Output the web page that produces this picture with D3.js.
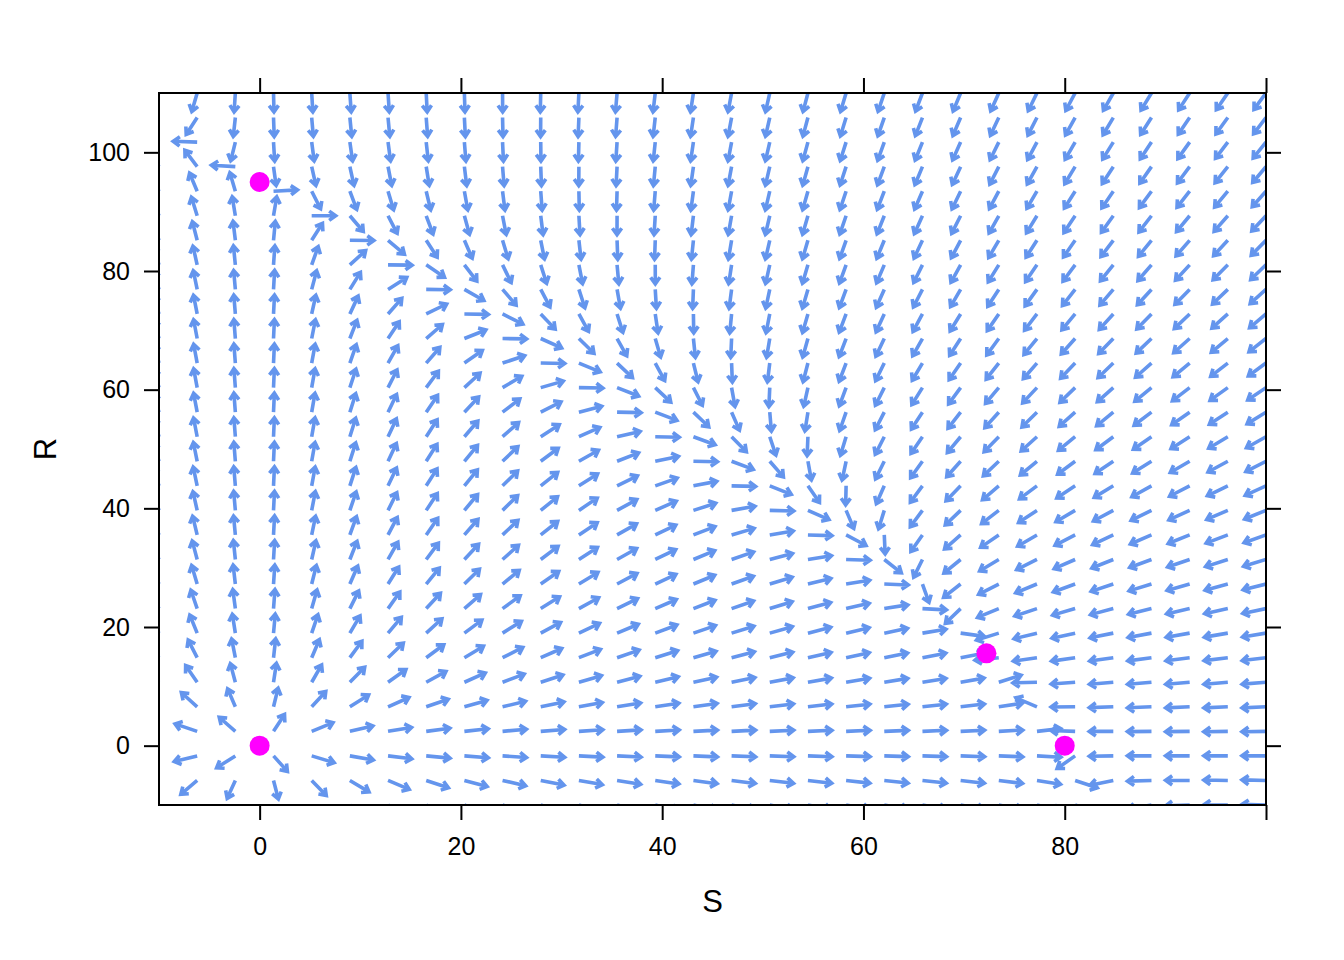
<!DOCTYPE html>
<html>
<head>
<meta charset="utf-8">
<script src="https://cdn.jsdelivr.net/npm/d3@7"></script>
<style>
  html, body { margin: 0; padding: 0; background: #ffffff; }
  svg { display: block; font-family: Arial, "Liberation Sans", sans-serif; }
</style>
</head>
<body>
<svg id="chart" width="1344" height="960"></svg>
<script>
// ---- data ----
const sLimits = [-10, 100];            // S axis range
const rLimits = [-10, 110];            // R axis range
const gridCounts = [30, 30];           // arrows along S, along R
const xTickValues = [0, 20, 40, 60, 80, 100];
const xTickLabels = ["0", "20", "40", "60", "80", ""];
const yTickValues = [0, 20, 40, 60, 80, 100];
const yTickLabels = ["0", "20", "40", "60", "80", "100"];
// equilibrium points (magenta dots)
const equilibriumS = [0, 0, 72.22, 80];
const equilibriumR = [0, 95, 15.56, 0];
// competition model behind the flow field: [S, R]
const growthRates = [1, 1.5];
const carryingCapacities = [80, 95];
const competitionCoefs = [0.5, 1.1];   // effect of R on S, effect of S on R

// ---- layout ----
const panel = { left: 159, right: 1266, top: 93, bottom: 805 };
const svg = d3.select("#chart");
const x = d3.scaleLinear().domain(sLimits).range([panel.left, panel.right]);
const y = d3.scaleLinear().domain(rLimits).range([panel.bottom, panel.top]);

function flow(S, R) {
  const dS = growthRates[0] * S * (1 - (S + competitionCoefs[0] * R) / carryingCapacities[0]);
  const dR = growthRates[1] * R * (1 - (R + competitionCoefs[1] * S) / carryingCapacities[1]);
  return [dS, dR];
}

const sGrid = d3.range(gridCounts[0]).map(i => sLimits[0] + i * (sLimits[1] - sLimits[0]) / (gridCounts[0] - 1));
const rGrid = d3.range(gridCounts[1]).map(j => rLimits[0] + j * (rLimits[1] - rLimits[0]) / (gridCounts[1] - 1));
const field = [];
sGrid.forEach(S => rGrid.forEach(R => { const [dS, dR] = flow(S, R); field.push({ S, R, dS, dR }); }));

svg.append("defs").append("clipPath").attr("id", "panelClip")
  .append("rect").attr("x", panel.left).attr("y", panel.top)
  .attr("width", panel.right - panel.left).attr("height", panel.bottom - panel.top);

const pxS = x(1) - x(0), pxR = y(1) - y(0);
const LX = 24, LY = 19, HEAD = 8, ANG = 0.62;
function arrowPath(d) {
  const x0 = x(d.S), y0 = y(d.R);
  let vx = d.dS * pxS, vy = d.dR * pxR;
  const m = Math.hypot(vx, vy);
  if (m === 0) return "";
  const ux = vx / m, uy = vy / m;
  const L = 1 / Math.sqrt((ux / LX) ** 2 + (uy / LY) ** 2);
  const x1 = x0 + ux * L, y1 = y0 + uy * L;
  const a = Math.atan2(uy, ux);
  const hx1 = x1 - HEAD * Math.cos(a - ANG), hy1 = y1 - HEAD * Math.sin(a - ANG);
  const hx2 = x1 - HEAD * Math.cos(a + ANG), hy2 = y1 - HEAD * Math.sin(a + ANG);
  return `M${x0},${y0}L${x1},${y1}M${hx1},${hy1}L${x1},${y1}L${hx2},${hy2}`;
}

const g = svg.append("g").attr("clip-path", "url(#panelClip)");
g.selectAll("path.arrow").data(field).join("path")
  .attr("class", "arrow")
  .attr("d", arrowPath)
  .attr("fill", "none")
  .attr("stroke", "#6495ED")
  .attr("stroke-width", 3.6)
  .attr("stroke-linejoin", "miter")
  .attr("stroke-linecap", "butt");

g.selectAll("circle.eq").data(equilibriumS.map((s, i) => ({ S: s, R: equilibriumR[i] }))).join("circle")
  .attr("class", "eq")
  .attr("cx", d => x(d.S)).attr("cy", d => y(d.R)).attr("r", 10)
  .attr("fill", "#FF00FF");

// panel box
svg.append("rect").attr("x", panel.left).attr("y", panel.top)
  .attr("width", panel.right - panel.left).attr("height", panel.bottom - panel.top)
  .attr("fill", "none").attr("stroke", "#000").attr("stroke-width", 2);

const tickLen = 15, fontSize = 25;
function styleAxis(sel) {
  sel.select(".domain").remove();
  sel.selectAll(".tick line").attr("stroke", "#000").attr("stroke-width", 2);
  sel.selectAll(".tick text").attr("fill", "#000").attr("font-size", fontSize)
     .attr("font-family", "Arial, 'Liberation Sans', sans-serif");
}
const xi = v => xTickLabels[xTickValues.indexOf(v)];
const yi = v => yTickLabels[yTickValues.indexOf(v)];

svg.append("g").attr("transform", `translate(0,${panel.bottom})`)
  .call(d3.axisBottom(x).tickValues(xTickValues).tickFormat(xi).tickSizeInner(tickLen).tickSizeOuter(0).tickPadding(17))
  .call(styleAxis);
svg.append("g").attr("transform", `translate(0,${panel.top})`)
  .call(d3.axisTop(x).tickValues(xTickValues).tickFormat("").tickSizeInner(tickLen).tickSizeOuter(0))
  .call(styleAxis);
svg.append("g").attr("transform", `translate(${panel.left},0)`)
  .call(d3.axisLeft(y).tickValues(yTickValues).tickFormat(yi).tickSizeInner(tickLen).tickSizeOuter(0).tickPadding(14))
  .call(styleAxis);
svg.append("g").attr("transform", `translate(${panel.right},0)`)
  .call(d3.axisRight(y).tickValues(yTickValues).tickFormat("").tickSizeInner(tickLen).tickSizeOuter(0))
  .call(styleAxis);

svg.append("text").attr("x", (panel.left + panel.right) / 2).attr("y", 912)
  .attr("text-anchor", "middle").attr("font-size", 31).attr("fill", "#000").text("S");
svg.append("text").attr("transform", `translate(56,${(panel.top + panel.bottom) / 2}) rotate(-90)`)
  .attr("text-anchor", "middle").attr("font-size", 31).attr("fill", "#000").text("R");
</script>
</body>
</html>
